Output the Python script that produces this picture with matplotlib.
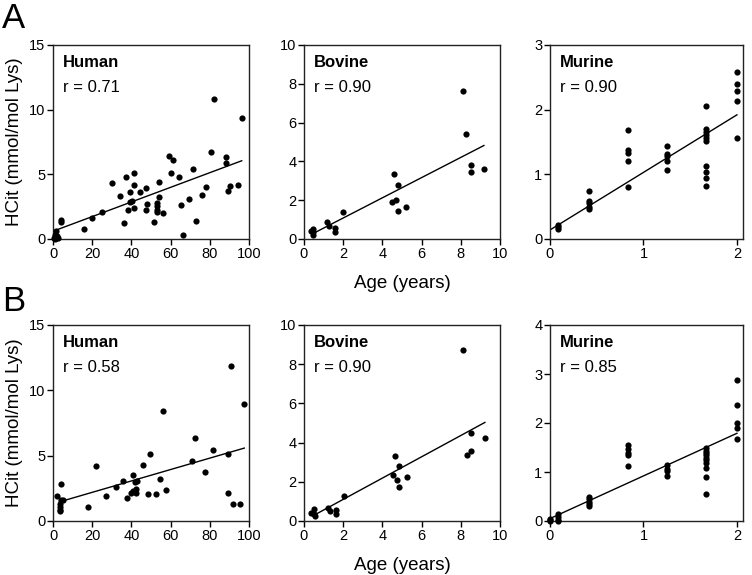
import matplotlib
matplotlib.use('Agg')
import matplotlib.pyplot as plt
import numpy as np

plt.rcParams['font.family'] = ['Liberation Sans', 'DejaVu Sans']

# ---- panel A (top row) ----
a_human_age = [0.3, 0.8, 1.5, 2.0, 2.5, 1.0, 4.1, 4.1, 16.0, 19.9, 25.0, 30.2, 34.1, 36.1,
               37.0, 38.2, 39.2, 39.2, 40.4, 41.2, 41.2, 41.2, 44.3, 47.2, 47.2, 48.0,
               51.4, 53.2, 53.2, 53.2, 53.2, 54.2, 54.2, 56.2, 59.1, 60.3, 61.2, 64.2,
               65.1, 66.3, 69.3, 71.2, 73.1, 76.1, 78.2, 80.4, 82.1, 88.2, 88.2, 89.3,
               90.3, 94.4, 96.3]
a_human_hcit = [0.1, 0.3, 0.6, 0.2, 0.05, 0.0, 1.45, 1.3, 0.77, 1.62, 2.08, 4.32, 3.29, 1.23,
                4.78, 2.21, 3.6, 2.83, 2.9, 5.14, 4.19, 2.39, 3.62, 3.98, 2.26, 2.7,
                1.29, 2.78, 2.52, 2.26, 2.06, 4.37, 3.24, 2.0, 6.43, 5.14, 6.07, 4.83,
                2.65, 0.33, 3.08, 5.42, 1.36, 3.37, 4.01, 6.76, 10.82, 6.35, 5.86, 3.73,
                4.06, 4.14, 9.38]

a_bovine_age = [0.34, 0.44, 0.48, 0.48, 1.19, 1.30, 1.59, 1.59, 1.98, 4.49, 4.61, 4.71,
                4.78, 4.78, 5.19, 8.09, 8.29, 8.50, 8.50, 9.18]
a_bovine_hcit = [0.43, 0.51, 0.34, 0.22, 0.87, 0.65, 0.55, 0.38, 1.37, 1.89, 3.36, 1.99,
                 2.80, 1.42, 1.65, 7.63, 5.40, 3.79, 3.45, 3.60]

a_murine_age = [0.083] * 3 + [0.42] * 5 + [0.83] * 5 + [1.25] * 5 + [1.67] * 10 + [2.0] * 5
a_murine_hcit = [0.21, 0.19, 0.16,
                 0.75, 0.59, 0.55, 0.50, 0.46,
                 1.69, 1.37, 1.33, 1.21, 0.81,
                 1.44, 1.31, 1.28, 1.21, 1.06,
                 2.05, 1.70, 1.66, 1.61, 1.56, 1.52, 1.13, 1.04, 0.94, 0.82,
                 2.58, 2.40, 2.29, 2.14, 1.56]

# ---- panel B (bottom row) ----
b_human_age = [1.9, 4.1, 4.1, 4.9, 3.6, 3.6, 3.4, 3.8, 17.8, 21.8, 26.9, 32.0, 35.9, 37.9,
               39.6, 40.8, 40.9, 41.8, 42.6, 42.6, 43.0, 45.9, 48.6, 49.7, 52.8, 54.8,
               56.0, 57.7, 70.9, 72.6, 77.7, 81.6, 89.5, 89.5, 90.7, 91.7, 95.4, 97.6]
b_human_hcit = [1.92, 2.81, 1.64, 1.64, 1.07, 0.82, 0.74, 1.28, 1.07, 4.19, 1.94, 2.61, 3.07,
                1.79, 2.15, 3.55, 2.28, 2.99, 2.48, 2.17, 3.04, 4.27, 2.05, 5.09, 2.05, 3.25,
                8.44, 2.35, 4.58, 6.32, 3.76, 5.40, 5.09, 2.15, 11.87, 1.33, 1.28, 8.95]

b_bovine_age = [0.37, 0.51, 0.51, 0.54, 1.22, 1.33, 1.65, 1.65, 2.04, 4.54, 4.64, 4.74,
                4.85, 4.85, 5.24, 8.13, 8.33, 8.54, 8.54, 9.23]
b_bovine_hcit = [0.43, 0.60, 0.37, 0.26, 0.65, 0.51, 0.58, 0.37, 1.28, 2.37, 3.34, 2.08,
                 2.79, 1.74, 2.25, 8.72, 3.37, 4.51, 3.56, 4.21]

b_murine_age = [0.0] * 3 + [0.083] * 4 + [0.42] * 5 + [0.83] * 5 + [1.25] * 4 + [1.67] * 10 + [2.0] * 5
b_murine_hcit = [0.0, 0.02, 0.04,
                 0.14, 0.08, 0.03, 0.0,
                 0.49, 0.44, 0.39, 0.34, 0.30,
                 1.56, 1.46, 1.39, 1.34, 1.12,
                 1.14, 1.07, 1.02, 0.92,
                 1.50, 1.43, 1.38, 1.34, 1.29, 1.24, 1.19, 1.08, 0.90, 0.56,
                 2.88, 2.36, 2.01, 1.89, 1.67]

# regression lines as drawn in the figure: (x_start, y_start, x_end, y_end)
a_fit_lines = [(0.0, 0.60, 96.3, 6.05), (0.44, 0.27, 9.18, 4.82), (0.0, 0.14, 2.0, 1.92)]
b_fit_lines = [(3.2, 1.46, 97.6, 5.58), (0.54, 0.31, 9.23, 5.03), (0.0, 0.05, 2.0, 1.79)]

species = ['Human', 'Bovine', 'Murine']
r_values = {'A': ['0.71', '0.90', '0.90'], 'B': ['0.58', '0.90', '0.85']}
xlims = [(0, 100), (0, 10), (0, 2.065)]
xticks = [[0, 20, 40, 60, 80, 100], [0, 2, 4, 6, 8, 10], [0, 1, 2]]
ylims = {'A': [(0, 15), (0, 10), (0, 3)], 'B': [(0, 15), (0, 10), (0, 4)]}
yticks = {'A': [[0, 5, 10, 15], [0, 2, 4, 6, 8, 10], [0, 1, 2, 3]],
          'B': [[0, 5, 10, 15], [0, 2, 4, 6, 8, 10], [0, 1, 2, 3, 4]]}

data = {'A': [(a_human_age, a_human_hcit), (a_bovine_age, a_bovine_hcit), (a_murine_age, a_murine_hcit)],
        'B': [(b_human_age, b_human_hcit), (b_bovine_age, b_bovine_hcit), (b_murine_age, b_murine_hcit)]}
fits = {'A': a_fit_lines, 'B': b_fit_lines}

W, H = 752, 575
fig = plt.figure(figsize=(W / 100, H / 100), dpi=100)

col_px = [(53, 249), (304, 500), (550, 743)]
row_px = {'A': (45, 239), 'B': (325, 521)}

for row in ['A', 'B']:
    top, bot = row_px[row]
    for i, (l, r) in enumerate(col_px):
        ax = fig.add_axes([l / W, 1 - bot / H, (r - l) / W, (bot - top) / H])
        x, y = data[row][i]
        ax.scatter(x, y, s=20, color='black', linewidths=0, zorder=3, clip_on=False)
        x0, y0, x1, y1 = fits[row][i]
        ax.plot([x0, x1], [y0, y1], color='black', lw=1.0)
        ax.set_xlim(*xlims[i])
        ax.set_ylim(*ylims[row][i])
        ax.set_xticks(xticks[i])
        ax.set_yticks(yticks[row][i])
        ax.tick_params(direction='out', length=4, width=1, labelsize=10.5, pad=1.5,
                       top=False, right=False)
        for sp in ax.spines.values():
            sp.set_linewidth(1.0)
            sp.set_color('#222222')
        ax.text(0.05, 0.887, species[i], transform=ax.transAxes, fontsize=12,
                fontweight='bold')
        ax.text(0.05, 0.76, 'r = ' + r_values[row][i], transform=ax.transAxes, fontsize=12)
        if i == 0:
            ax.set_ylabel('HCit (mmol/mol Lys)', fontsize=13.5, labelpad=4)
        if i == 1:
            ax.set_xlabel('Age (years)', fontsize=13.5, labelpad=10)

fig.text(0.003, 1 - 28 / H, 'A', fontsize=25)
fig.text(0.003, 1 - 311 / H, 'B', fontsize=25)

fig.savefig('out.png', dpi=100)
